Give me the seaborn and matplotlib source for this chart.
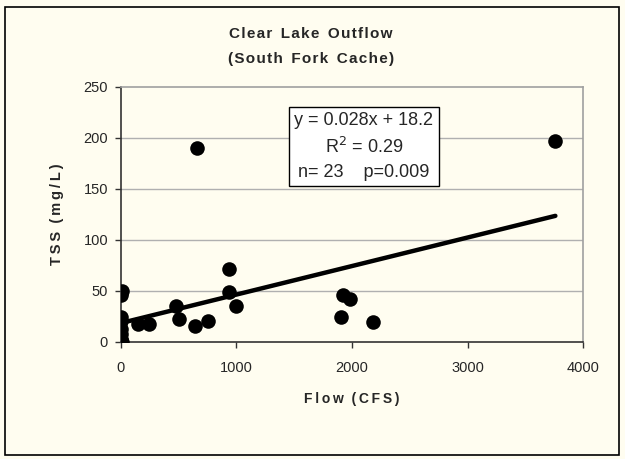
import matplotlib
matplotlib.use("Agg")
import matplotlib.pyplot as plt
import seaborn as sns
import pandas as pd
import numpy as np
from matplotlib.patches import Rectangle

flow = [10, 0, 5, 0, 0, 5, 0, 10, 147, 247, 483, 503, 642, 757, 938, 938, 996,
        660, 1908, 1922, 1986, 2181, 3760]
tss = [50, 46, 24, 20, 12, 8, 3, 0, 17, 17, 35, 22, 15, 20, 71, 49, 35,
       190, 24, 46, 42, 19, 197]
slope = 0.028
intercept = 18.2
fit_x = [0, 3760]
xticks = [0, 1000, 2000, 3000, 4000]
yticks = [0, 50, 100, 150, 200, 250]

bg = "#FFFDF0"
sns.set_theme(style="white")
plt.rcParams['font.family'] = ['Liberation Sans', 'DejaVu Sans']


def spaced(s, sep="\u200a"):
    return " ".join(sep.join(w) for w in s.split(" ")).replace(" ", "  ")


df = pd.DataFrame({"Flow": flow, "TSS": tss})
fit = pd.DataFrame({"x": fit_x, "y": [slope * v + intercept for v in fit_x]})

fig = plt.figure(figsize=(6.25, 4.59), dpi=100, facecolor=bg)
ax = fig.add_axes([0.193, 0.2556, 0.740, 0.555])
ax.set_facecolor(bg)

for t in [50, 100, 150, 200]:
    ax.axhline(t, color="#B0B0B0", lw=1, zorder=0)

sns.lineplot(data=fit, x="x", y="y", ax=ax, color="black", lw=3.2, zorder=2)
sns.scatterplot(data=df, x="Flow", y="TSS", ax=ax, color="black", s=110,
                edgecolor="black", linewidth=0, zorder=3)

ax.set_xlim(0, 4000)
ax.set_ylim(0, 250)
ax.set_xticks(xticks)
ax.set_yticks(yticks)
ax.set_xticklabels([str(v) for v in xticks], fontsize=10.5)
ax.set_yticklabels([str(v) for v in yticks], fontsize=10.5)
ax.tick_params(axis="both", which="both", direction="out", length=4, width=1,
               color="#333333", bottom=True, left=True, pad=5)
ax.tick_params(axis="x", pad=10)
for s in ["left", "bottom"]:
    ax.spines[s].set_color("#333333")
    ax.spines[s].set_linewidth(1.2)
for s in ["top", "right"]:
    ax.spines[s].set_color("#A0A0A0")
    ax.spines[s].set_linewidth(1.2)

ax.set_xlabel(spaced("Flow (CFS)", "\u2009"), fontsize=10, fontweight="bold", labelpad=12)
ax.set_ylabel(spaced("TSS (mg/L)", "\u2009"), fontsize=10.5, fontweight="bold", labelpad=14)

fig.text(0.497, 0.926, spaced("Clear Lake Outflow"), ha="center", va="center",
         fontsize=11, fontweight="bold")
fig.text(0.497, 0.872, spaced("(South Fork Cache)"), ha="center", va="center",
         fontsize=11, fontweight="bold")

ax.text(0.526, 0.766,
        "y = 0.028x + 18.2\n" + r"R$^2$ = 0.29" + "\nn= 23    p=0.009",
        transform=ax.transAxes, ha="center", va="center", fontsize=13,
        linespacing=1.5,
        bbox=dict(boxstyle="square,pad=0.3", facecolor="white",
                  edgecolor="black", lw=1))

fig.patches.append(Rectangle((5 / 625, 1 - 455 / 459), 614 / 625, 448 / 459,
                             transform=fig.transFigure, fill=False,
                             edgecolor="black", lw=1.2))

fig.savefig("out.png", dpi=100, facecolor=bg)
